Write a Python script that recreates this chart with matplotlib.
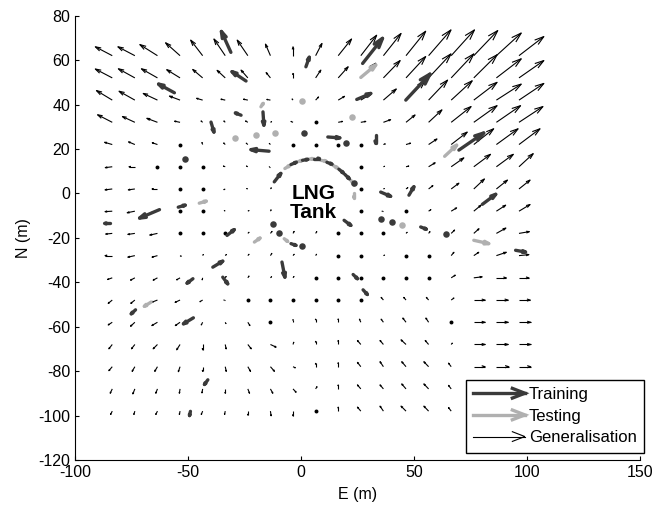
import numpy as np
import matplotlib.pyplot as plt
from matplotlib.collections import LineCollection
from matplotlib.legend_handler import HandlerBase
from matplotlib.lines import Line2D

plt.rcParams['font.family'] = ['Liberation Sans', 'DejaVu Sans']
plt.rcParams['axes.unicode_minus'] = False

nan = np.nan

# generalisation grid (E columns, N rows from top to bottom)
grid_e = [-83.5, -73.5, -63.5, -53.5, -43.5, -33.5, -23.5, -13.5, -3.5, 6.5,
          16.5, 26.5, 36.5, 46.5, 56.5, 66.5, 76.5, 86.5, 96.5]
grid_n = [62, 52, 42, 32, 22, 12, 2, -8, -18, -28, -38, -48, -58, -68, -78, -88, -98]

gen_u = [
    [-7.5, -7.5, -7.8, -6.4, -5.3, -5.0, -4.7, -2.2, 0.0, 2.8, 5.9, 7.0, 7.8, 8.7, 9.9, 10.3, 10.6, 11.0, 11.0],
    [-7.5, -7.3, -7.1, -5.9, -4.4, -3.6, -3.0, -1.9, 0.0, 2.3, 4.4, 6.6, 7.4, 8.7, 9.9, 10.0, 10.3, 11.0, 11.0],
    [-7.0, -7.0, -6.3, -4.7, -2.7, -1.9, -1.9, -1.6, -0.4, 1.3, 2.8, 4.4, 5.7, 8.4, 8.4, 9.3, 10.3, 11.0, 11.0],
    [-6.5, -5.5, -4.7, -2.4, -0.7, -0.6, -1.0, 0.5, -0.9, 0.0, 1.9, 2.2, 3.2, 4.0, 5.9, 8.8, 10.3, 10.7, 10.6],
    [-3.4, -2.8, -2.3, 0.0, -0.3, -0.7, -0.7, -0.5, 0.0, 0.0, 0.0, 0.0, 0.8, 2.0, 3.7, 7.1, 8.8, 9.6, 9.3],
    [-3.1, -2.6, 0.0, 0.0, 0.0, -0.8, -0.6, -0.5, nan, nan, nan, 0.0, 0.5, 1.2, 2.9, 5.6, 7.4, 7.5, 6.3],
    [-3.2, -2.9, -2.4, 0.0, 0.0, -0.6, -0.5, 0.4, nan, nan, nan, 0.0, 0.4, 0.8, 1.9, 3.4, 4.7, 4.9, 4.9],
    [-3.2, -3.4, -2.4, 0.0, 0.0, -0.4, 0.5, 0.3, nan, nan, nan, 0.0, -0.6, 0.0, 1.0, 2.4, 3.2, 4.1, 4.9],
    [-2.9, -3.1, -3.4, 0.0, 0.0, 0.0, 0.5, 0.7, 0.5, 0.5, 0.0, 0.0, 0.0, 0.5, 0.6, 1.5, 2.3, 4.2, 4.6],
    [-3.2, -3.1, -2.4, 0.5, 0.3, 0.5, 0.5, 0.6, 0.5, 0.4, 0.0, 0.0, 0.5, 0.0, 0.0, 1.2, 2.2, 4.4, 4.4],
    [-2.1, -1.9, -1.9, -1.5, -0.2, 0.4, 0.5, 0.5, 0.4, 0.0, 0.0, 0.0, 0.0, 0.0, 0.0, 1.8, 3.7, 4.4, 4.4],
    [-1.8, -1.8, -2.65, -2.2, -1.2, -0.6, 0.0, 0.0, 0.0, 0.0, 0.0, 0.0, -1.0, -1.0, -1.0, 1.2, 5.0, 5.2, 5.0],
    [-1.8, -1.9, -2.5, -2.1, -0.6, 0.3, 0.9, 0.0, 0.0, 0.0, 0.0, -0.6, -1.0, -1.4, -1.2, 0.0, 5.0, 5.2, 5.2],
    [-1.5, -1.5, -1.9, -1.5, 0.0, 0.4, 1.5, 2.5, 0.3, 0.0, 0.0, -1.5, -1.5, -2.2, -1.5, 0.5, 5.0, 5.2, 5.2],
    [-1.5, -1.2, -1.2, -0.75, 0.0, 0.45, 1.2, 1.8, 1.0, 0.0, 0.0, -1.5, -1.5, -1.9, -2.1, -1.2, 5.0, 5.5, 5.2],
    [-0.9, -0.9, -0.75, -0.3, -0.3, 0.0, 0.75, 1.05, 1.35, 0.6, 0.0, -1.5, -1.5, -1.9, -2.1, -1.2, 5.0, 5.0, 5.0],
    [-0.75, -0.45, -0.75, -0.3, -0.6, -0.3, 0.0, 0.3, 0.0, 0.0, 0.0, -1.5, -1.5, -2.2, -2.1, -1.2, 5.0, 5.0, 5.0],
]
gen_v = [
    [4.0, 4.0, 5.0, 5.8, 7.0, 7.5, 7.0, 5.2, 4.0, 5.5, 7.5, 9.2, 10.0, 11.0, 11.6, 11.6, 11.3, 10.2, 8.6],
    [4.0, 4.1, 4.1, 3.7, 3.8, 3.4, 3.5, 2.4, 2.0, 3.5, 5.0, 6.6, 7.8, 9.6, 10.8, 10.8, 10.4, 8.6, 7.8],
    [4.3, 4.0, 3.0, 1.8, 0.8, 0.4, 0.4, 0.3, 0.5, 1.4, 1.7, 2.7, 5.0, 8.7, 9.0, 8.7, 8.0, 7.2, 7.5],
    [3.4, 2.6, 1.8, 0.5, 0.6, 0.6, 0.6, 0.3, 0.4, 0.0, 0.4, 0.4, 1.2, 3.3, 5.6, 7.1, 7.5, 7.5, 7.1],
    [1.0, 1.2, 0.8, 0.0, 0.9, 0.7, 0.6, 0.5, 0.0, 0.0, 0.0, 0.0, 0.3, 0.6, 2.5, 5.6, 7.1, 7.1, 7.1],
    [-0.4, 0.0, 0.0, 0.0, 0.0, 0.3, 0.3, 0.0, nan, nan, nan, 0.0, 0.2, 0.3, 1.8, 4.0, 5.6, 5.6, 5.9],
    [-0.4, -0.4, 0.0, 0.0, 0.0, -0.3, 0.2, 0.5, nan, nan, nan, 0.0, 0.2, 0.6, 1.5, 2.6, 4.5, 4.0, 4.0],
    [-0.2, -0.7, -0.4, 0.0, 0.0, 0.3, 0.3, 0.6, nan, nan, nan, 0.0, 0.0, 0.0, 0.7, 1.5, 2.7, 2.7, 3.0],
    [-0.3, -0.45, -0.75, 0.0, 0.0, 0.0, 0.5, 0.9, 0.9, 0.8, 0.0, 0.0, 0.0, 0.5, 0.8, 1.5, 2.1, 2.4, 0.8],
    [0.0, -0.7, -0.7, -0.3, 0.5, 0.5, 0.6, 1.0, 0.6, 0.6, 0.0, 0.0, 0.2, 0.0, 0.0, 1.5, 1.5, 1.5, 0.45],
    [-0.75, -1.05, -1.05, -0.9, -0.9, 0.6, 0.8, 0.5, 0.6, 0.0, 0.0, 0.0, 0.0, 0.0, 0.0, 1.2, 0.45, 0.0, 0.0],
    [-1.5, -1.5, -1.05, -1.05, -0.75, 0.0, 0.0, 0.0, 0.0, 0.0, 0.0, 0.0, 1.2, 1.2, 1.2, 0.9, 0.0, 0.0, 0.0],
    [-1.2, -1.8, -1.5, -1.5, -1.2, -0.6, -1.5, 0.0, 1.2, 1.4, 1.5, 1.4, 1.4, 1.9, 1.9, 0.0, 0.0, 0.0, 0.0],
    [-1.95, -1.95, -1.95, -2.4, -2.4, -2.0, -1.95, -1.2, 1.0, 1.4, 1.8, 1.8, 1.8, 2.1, 1.8, 0.6, 0.0, 0.0, 0.0],
    [-1.8, -2.1, -2.1, -2.25, -2.1, -2.1, -2.1, -2.1, -0.5, 1.5, 1.8, 1.95, 2.25, 2.25, 2.25, 1.6, 0.0, 0.0, 0.0],
    [-1.95, -2.25, -1.95, -1.95, -1.8, -1.95, -1.95, -1.95, -1.5, 1.0, 1.8, 1.8, 1.8, 2.25, 2.25, 1.6, 0.0, 0.0, 0.0],
    [-1.5, -1.5, -1.5, -1.5, -1.5, -1.5, -1.8, -2.1, -2.1, 0.0, 1.8, 1.8, 2.25, 2.25, 2.25, 1.6, 0.0, 0.0, 0.0],
]

# training vectors (E, N, dE, dN)
train_e = [-31.0, -24.3, -56.0, -39.8, -16.8, -14.1, -26.5, 11.9, 2.2, 27.3, 24.7, 46.4, 69.9, 33.1,
           80.3, 35.3, 47.8, 95.0, 19.1, 53.0, 23.1, 27.5, -32.7, -39.0, -8.4, -34.6, -47.8, -47.6,
           -73.2, -41.2, -48.9, -84.4, -62.6, -54.3,
           -11.8, -4.4, 0.7, 5.9, 11.5, 16.8, 19.4, -4.4]
train_n = [63.5, 50.6, 45.3, 32.1, 36.7, 19.0, 35.2, 25.4, 57.0, 58.5, 42.3, 42.0, 19.5, 26.2,
           -4.9, 0.6, -0.8, -25.6, -12.1, -15.1, -36.5, -43.4, -18.9, -33.2, -30.9, -37.7, -38.4, -56.0,
           -52.4, -83.9, -98.1, -13.5, -7.3, -6.2,
           5.2, 13.0, 14.9, 15.7, 14.0, 10.9, 8.6, -22.6]
train_u = [-4.2, -6.2, -7.0, 1.3, 0.4, -8.0, -2.5, 5.3, 1.5, 8.8, 6.2, 10.7, 11.0, 0.0,
           5.9, 4.4, 2.2, 4.4, 3.0, 2.5, 1.9, 1.9, 3.2, 4.4, 1.3, 2.2, -2.6, -4.4,
           -1.9, -1.5, -0.4, -2.5, -8.8, 3.1,
           2.9, 2.3, 2.3, 2.3, 2.2, 2.0, 2.0, 2.2]
train_v = [9.4, 4.2, 3.9, -4.5, -6.0, 0.7, 1.0, -0.4, 4.3, 11.3, 2.7, 11.7, 7.7, -3.7,
           4.5, -1.9, 3.8, -0.8, -2.3, -1.0, -1.9, -2.1, 2.6, 2.7, -6.8, -3.0, -2.0, -2.7,
           -1.8, -2.1, -1.9, 0.0, -3.8, 0.9,
           3.8, 1.0, 0.4, 0.0, -0.8, -1.7, -2.0, -0.8]

# testing vectors (E, N, dE, dN)
test_e = [26.5, 63.6, 76.5, -66.3, -45.0, -17.7, -7.1, -1.8, 3.2, 8.8, 14.1, 22.1, 23.5, -7.4, -20.6]
test_n = [52.2, 16.7, -21.1, -48.9, -4.4, 39.0, 11.2, 14.2, 15.4, 14.9, 12.7, 5.9, 0.0, -20.4, -21.9]
test_u = [6.6, 5.3, 6.6, -3.0, 3.1, 1.0, 2.2, 2.3, 2.3, 2.3, 2.1, 1.4, 0.0, 1.5, 2.5]
test_v = [5.6, 5.0, -1.5, -1.9, 0.9, 1.5, 1.4, 0.6, 0.2, -0.4, -1.3, -2.2, -2.0, -1.2, 1.8]

# near-zero training / testing vectors seen as dots
train_dot_e = [1.5, 19.9, -12.5, -9.6, 0.3, 23.5, 35.3, 40.2, 64.0, -51.1]
train_dot_n = [27.0, 22.5, -13.6, -17.8, -23.8, 4.6, -11.3, -12.9, -18.1, 15.7]
test_dot_e = [-11.5, -19.9, 0.3, 22.8, 44.9, -29.2]
test_dot_n = [27.4, 26.2, 41.5, 34.5, -14.4, 25.0]

DARK = '#3a3a3a'
LIGHT = '#b0b0b0'


def arrow_paths(x, y, u, v, alpha=0.3, beta=0.3):
    # matlab style quiver: shaft plus open head
    paths = []
    for xi, yi, ui, vi in zip(x, y, u, v):
        if np.isnan(ui) or (ui == 0 and vi == 0):
            continue
        tx, ty = xi + ui, yi + vi
        paths.append([(xi, yi), (tx, ty)])
        paths.append([(tx - alpha * (ui + beta * vi), ty - alpha * (vi - beta * ui)),
                      (tx, ty),
                      (tx - alpha * (ui - beta * vi), ty - alpha * (vi + beta * ui))])
    return paths


class ArrowHandler(HandlerBase):
    def create_artists(self, legend, orig_handle, xdescent, ydescent,
                       width, height, fontsize, trans):
        y = height / 2 - ydescent
        x0, x1 = -xdescent, -xdescent + width
        c = orig_handle.get_color()
        lw = orig_handle.get_linewidth()
        shaft = Line2D([x0, x1], [y, y], color=c, lw=lw, transform=trans)
        head = Line2D([x1 - 9, x1, x1 - 9], [y + 3.5, y, y - 3.5], color=c, lw=lw,
                      transform=trans, solid_joinstyle='miter')
        return [shaft, head]


fig = plt.figure(figsize=(6.52, 5.11), dpi=100)
ax = fig.add_axes([0.115, 0.0998, 0.8664, 0.8695])

E, N = np.meshgrid(grid_e, grid_n)
U = np.array(gen_u)
V = np.array(gen_v)
ge, gn, gu, gv = E.ravel(), N.ravel(), U.ravel(), V.ravel()

ax.add_collection(LineCollection(arrow_paths(ge, gn, gu, gv), colors='black',
                                 linewidths=0.8, zorder=2))
zero = (gu == 0) & (gv == 0)
ax.scatter(ge[zero], gn[zero], s=8, color='black', linewidths=0, zorder=2)

ax.add_collection(LineCollection(arrow_paths(test_e, test_n, test_u, test_v), colors=LIGHT,
                                 linewidths=2.4, capstyle='round', zorder=3))
ax.scatter(test_dot_e, test_dot_n, s=22, color=LIGHT, linewidths=0, zorder=3)
ax.add_collection(LineCollection(arrow_paths(train_e, train_n, train_u, train_v), colors=DARK,
                                 linewidths=2.4, capstyle='round', zorder=4))
ax.scatter(train_dot_e, train_dot_n, s=22, color=DARK, linewidths=0, zorder=4)

ax.text(5.5, -4.5, 'LNG\nTank', ha='center', va='center', fontsize=15,
        fontweight='bold', linespacing=1.0, zorder=5)

ax.set_xlim(-100, 150)
ax.set_ylim(-120, 80)
ax.set_xticks([-100, -50, 0, 50, 100, 150])
ax.set_yticks(np.arange(-120, 81, 20))
ax.tick_params(direction='in', length=3, labelsize=11.5, width=0.8)
for s in ['top', 'right']:
    ax.spines[s].set_visible(False)
ax.set_xlabel('E (m)', fontsize=11.5, labelpad=5)
ax.set_ylabel('N (m)', fontsize=11.5, labelpad=5)

h_train = Line2D([], [], color=DARK, lw=2.4)
h_test = Line2D([], [], color=LIGHT, lw=2.4)
h_gen = Line2D([], [], color='black', lw=0.8)
leg = ax.legend([h_train, h_test, h_gen], ['Training', 'Testing', 'Generalisation'],
                handler_map={Line2D: ArrowHandler()}, loc='lower right',
                bbox_to_anchor=(1.008, 0.016), borderaxespad=0, fontsize=12,
                handlelength=3.1, handletextpad=0.25, labelspacing=0.4,
                borderpad=0.45, fancybox=False, framealpha=1, edgecolor='black')
leg.get_frame().set_linewidth(1.0)
leg.set_zorder(10)

fig.savefig('out.png', dpi=100)
